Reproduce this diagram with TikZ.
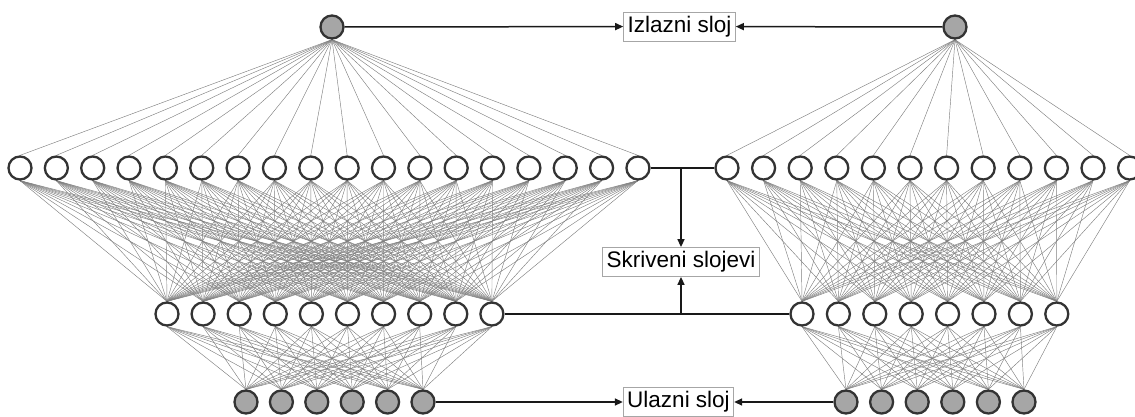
\documentclass[tikz,border=0pt]{standalone}
\usepackage{fontspec}
\setmainfont{Liberation Sans}
\usetikzlibrary{arrows.meta}
\pgfdeclarelayer{bg}
\pgfsetlayers{bg,main}
\begin{document}
\begin{tikzpicture}[x=1pt,y=-1pt,
  neuron/.style={circle,draw=black!80,line width=2.3pt,minimum size=23pt,inner sep=0pt,fill=white},
  ioneuron/.style={neuron,fill=black!35},
  link/.style={draw=black!50,line width=0.45pt},
  layerlabel/.style={draw=black!35,line width=0.8pt,fill=white,font=\fontsize{22.5}{26}\selectfont,inner xsep=4pt,inner ysep=0pt,minimum height=29pt,text height=16pt,text depth=5pt},
  conn/.style={line width=1.5pt,draw=black!90},
  arr/.style={conn,-{Triangle[length=8pt,width=7pt]}}
]
\useasboundingbox (0,0) rectangle (1135,416);

% left network
\node[ioneuron] (LO) at (332,27) {};
\foreach \i in {0,...,17} \node[neuron] (LA\i) at ({20+\i*36.35},168) {};
\foreach \i in {0,...,9} \node[neuron] (LB\i) at ({167+\i*36.1},314) {};
\foreach \i in {0,...,5} \node[ioneuron] (LC\i) at ({246+\i*35.4},402) {};

% right network
\node[ioneuron] (RO) at (955,27) {};
\foreach \i in {0,...,11} \node[neuron] (RA\i) at ({727+\i*36.6},168) {};
\foreach \i in {0,...,7} \node[neuron] (RB\i) at ({802+\i*36.4},314) {};
\foreach \i in {0,...,5} \node[ioneuron] (RC\i) at ({846+\i*35.6},402) {};

\begin{pgfonlayer}{bg}
\foreach \i in {0,...,17} \draw[link] (LO.south) -- (LA\i.north);
\foreach \i in {0,...,17} \foreach \j in {0,...,9} \draw[link] (LA\i.south) -- (LB\j.north);
\foreach \j in {0,...,9} \foreach \k in {0,...,5} \draw[link] (LB\j.south) -- (LC\k.north);
\foreach \i in {0,...,11} \draw[link] (RO.south) -- (RA\i.north);
\foreach \i in {0,...,11} \foreach \j in {0,...,7} \draw[link] (RA\i.south) -- (RB\j.north);
\foreach \j in {0,...,7} \foreach \k in {0,...,5} \draw[link] (RB\j.south) -- (RC\k.north);
\end{pgfonlayer}

% labels
\node[layerlabel] (out) at (679.5,26.5) {Izlazni sloj};
\node[layerlabel] (hid) at (681,262) {Skriveni slojevi};
\node[layerlabel] (in) at (678.5,402) {Ulazni sloj};

% connectors
\draw[arr] (LO) -- (out);
\draw[arr] (RO) -- (out);
\draw[arr] (LC5) -- (in);
\draw[arr] (RC0) -- (in);
\draw[conn] (LA17) -- (RA0);
\draw[conn] (LB9) -- (RB0);
\draw[arr] (hid.north |- LA17.center) -- (hid.north);
\draw[arr] (hid.south |- LB9.center) -- (hid.south);
\end{tikzpicture}
\end{document}
